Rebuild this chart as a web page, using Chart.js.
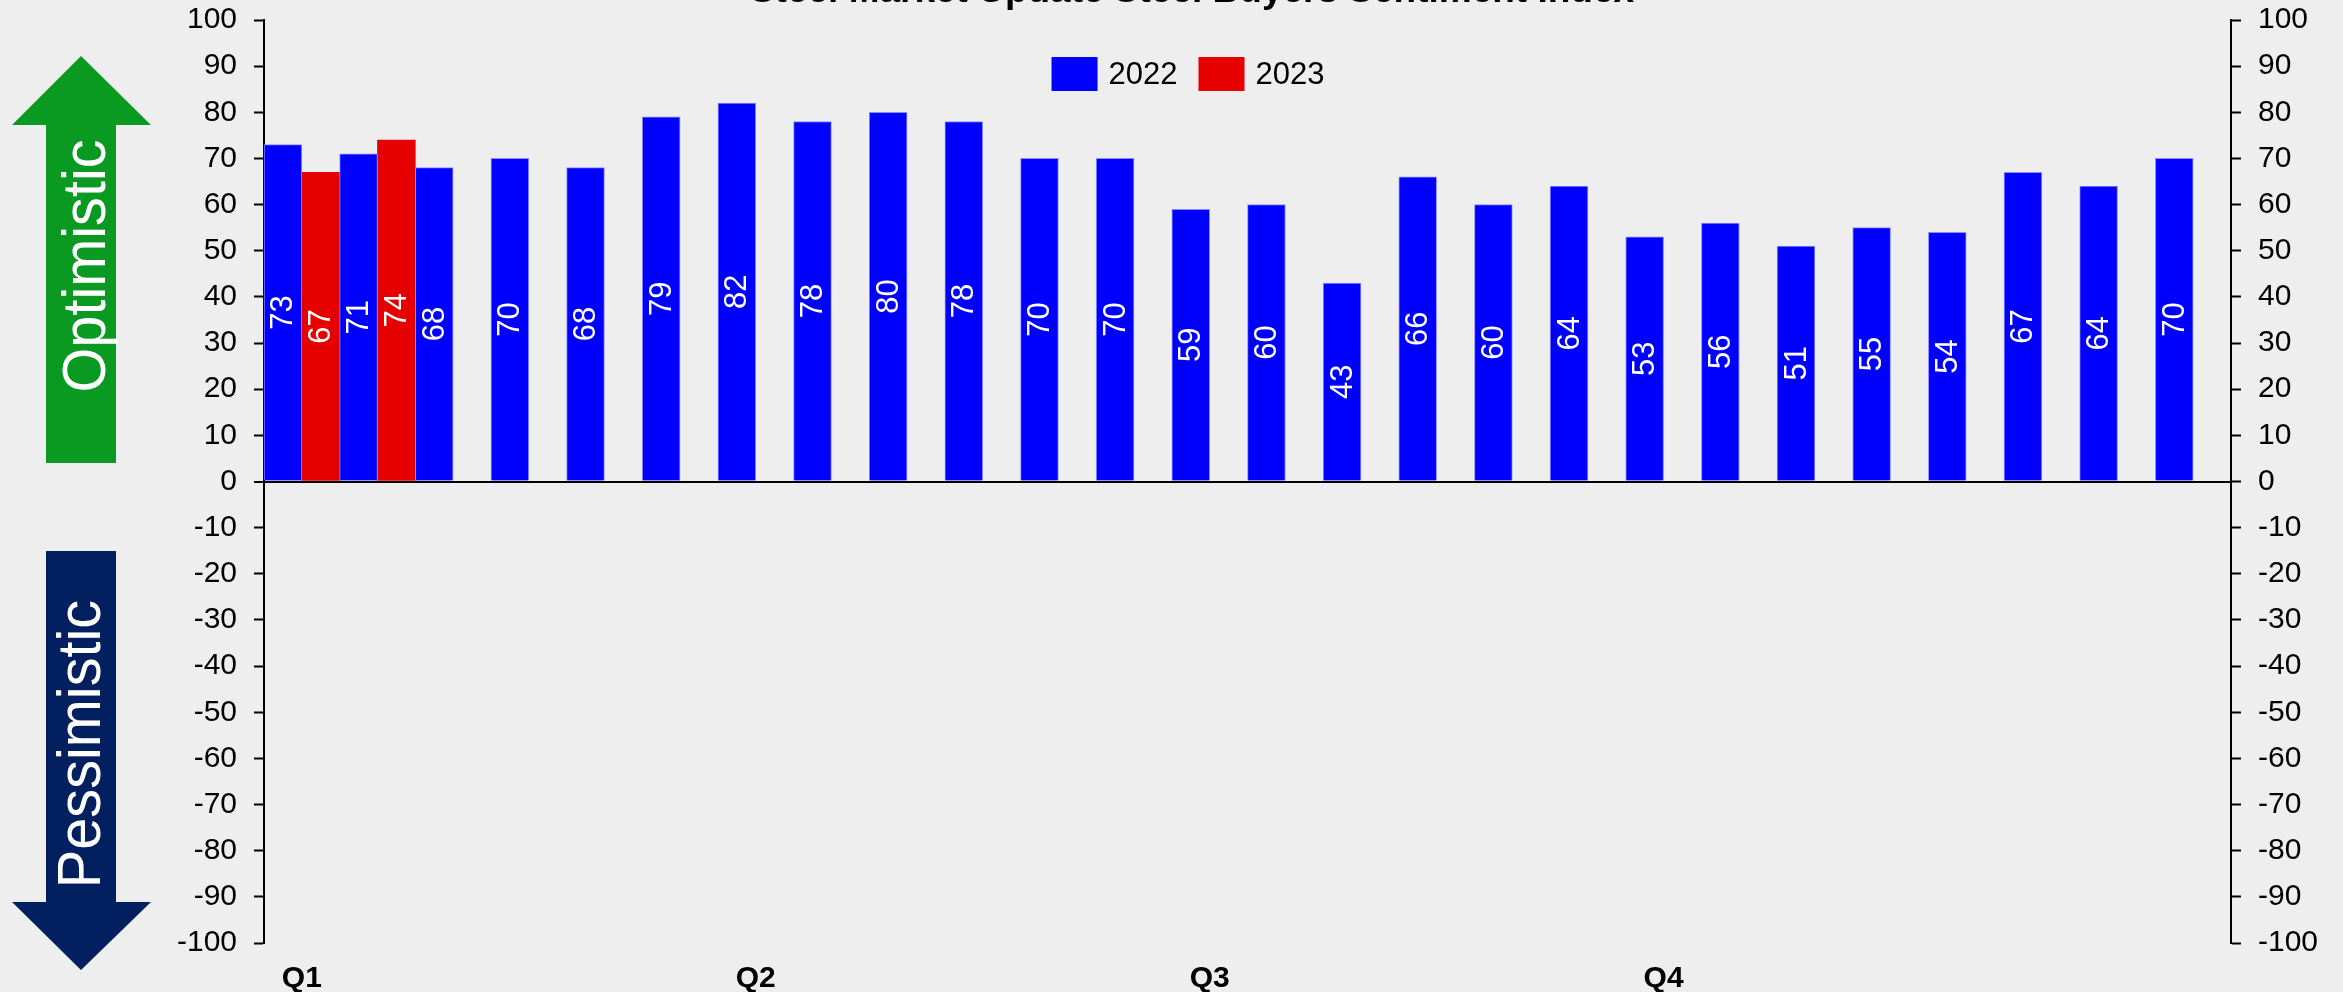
<!DOCTYPE html>
<html>
<head>
<meta charset="utf-8">
<script src="https://cdn.jsdelivr.net/npm/chart.js@4/dist/chart.umd.min.js"></script>
<style>
  html, body { margin: 0; padding: 0; background: #EEEEEE; overflow: hidden; }
  #wrap { position: relative; width: 2343px; height: 992px; }
</style>
</head>
<body>
<div id="wrap"><canvas id="c"></canvas></div>
<script>
// ---- data ----
const chartTitle = 'Steel Market Update Steel Buyers Sentiment Index';
const categories = ['Q1','','','','','','Q2','','','','','','Q3','','','','','','Q4','','','','','','',''];
const seriesNames = ['2022', '2023'];
const values2022 = [73,71,68,70,68,79,82,78,80,78,70,70,59,60,43,66,60,64,53,56,51,55,54,67,64,70];
const values2023 = [67,74,null,null,null,null,null,null,null,null,null,null,null,null,null,null,null,null,null,null,null,null,null,null,null,null];
const yMin = -100, yMax = 100, yStep = 10;
const arrowTexts = ['Optimistic', 'Pessimistic'];

const FONT = '"Liberation Sans", Arial, sans-serif';
const colors = ['#0000FF', '#E60000'];
const edgeColors = ['#8C8CFF', '#E60000'];

const bgPlugin = {
  id: 'bg',
  beforeDraw(chart) {
    const ctx = chart.ctx;
    ctx.save();
    ctx.fillStyle = '#EEEEEE';
    ctx.fillRect(0, 0, chart.width, chart.height);
    // green up arrow
    ctx.fillStyle = '#0A9A22';
    ctx.beginPath();
    ctx.moveTo(81, 56); ctx.lineTo(151, 125); ctx.lineTo(116, 125); ctx.lineTo(116, 463);
    ctx.lineTo(46, 463); ctx.lineTo(46, 125); ctx.lineTo(12, 125); ctx.closePath();
    ctx.fill();
    // navy down arrow
    ctx.fillStyle = '#022060';
    ctx.beginPath();
    ctx.moveTo(46, 551); ctx.lineTo(116, 551); ctx.lineTo(116, 902); ctx.lineTo(151, 902);
    ctx.lineTo(81, 970); ctx.lineTo(12, 902); ctx.lineTo(46, 902); ctx.closePath();
    ctx.fill();
    // texts
    ctx.fillStyle = '#FFFFFF';
    ctx.font = '62px ' + FONT;
    ctx.textAlign = 'center';
    ctx.textBaseline = 'alphabetic';
    ctx.save(); ctx.translate(105, 266); ctx.rotate(-Math.PI / 2); ctx.scale(0.93, 1);
    ctx.fillText(arrowTexts[0], 0, 0); ctx.restore();
    ctx.save(); ctx.translate(100, 744); ctx.rotate(-Math.PI / 2); ctx.scale(0.93, 1);
    ctx.fillText(arrowTexts[1], 0, 0); ctx.restore();
    // title (cut off at top)
    ctx.fillStyle = '#000';
    ctx.font = 'bold 37px ' + FONT;
    ctx.textAlign = 'center';
    ctx.fillText(chartTitle, 1192, 2);
    ctx.restore();
  }
};

const labelPlugin = {
  id: 'vlabels',
  afterDatasetsDraw(chart) {
    const ctx = chart.ctx;
    ctx.save();
    ctx.fillStyle = '#FFFFFF';
    ctx.font = '31px ' + FONT;
    ctx.textAlign = 'center';
    ctx.textBaseline = 'middle';
    chart.data.datasets.forEach((ds, i) => {
      const meta = chart.getDatasetMeta(i);
      meta.data.forEach((bar, j) => {
        const v = ds.data[j];
        if (v === null || v === undefined) return;
        const p = bar.getProps(['x', 'y', 'base'], true);
        ctx.save();
        ctx.translate(p.x, (p.y + p.base) / 2);
        ctx.rotate(-Math.PI / 2);
        ctx.fillText(String(v), 0, 1);
        ctx.restore();
      });
    });
    ctx.restore();
  }
};

const legendPlugin = {
  id: 'mylegend',
  afterDraw(chart) {
    const ctx = chart.ctx;
    ctx.save();
    ctx.font = '31px ' + FONT;
    const boxW = 46, boxH = 34, gapT = 11, gapItem = 21;
    const items = chart.data.datasets.map(d => ({ label: d.label, color: d.backgroundColor, w: ctx.measureText(d.label).width }));
    let total = 0;
    items.forEach((it, k) => { total += boxW + gapT + it.w + (k < items.length - 1 ? gapItem : 0); });
    let x = 1188 - total / 2;
    const yc = 74;
    ctx.textAlign = 'left';
    ctx.textBaseline = 'middle';
    items.forEach(it => {
      ctx.fillStyle = it.color;
      ctx.fillRect(x, yc - boxH / 2, boxW, boxH);
      x += boxW + gapT;
      ctx.fillStyle = '#000';
      ctx.fillText(it.label, x, yc + 1);
      x += it.w + gapItem;
    });
    ctx.restore();
  }
};

const gridColor = c => (c.tick && c.tick.value === 0) ? '#000000' : 'rgba(0,0,0,0)';
const gridWidth = c => (c.tick && c.tick.value === 0) ? 2 : 1;

new Chart(document.getElementById('c'), {
  type: 'bar',
  data: {
    labels: categories,
    datasets: [
      { label: seriesNames[0], data: values2022, backgroundColor: colors[0], borderColor: edgeColors[0], borderWidth: 1, categoryPercentage: 1.0, barPercentage: 1.0, yAxisID: 'y' },
      { label: seriesNames[1], data: values2023, backgroundColor: colors[1], borderColor: edgeColors[1], borderWidth: 0, categoryPercentage: 1.0, barPercentage: 1.0, yAxisID: 'y' }
    ]
  },
  options: {
    responsive: true,
    maintainAspectRatio: false,
    animation: false,
    devicePixelRatio: 1,
    layout: { padding: { top: 20, left: 0, right: 0, bottom: 0 } },
    plugins: { legend: { display: false }, tooltip: { enabled: false }, title: { display: false } },
    scales: {
      x: {
        type: 'category',
        offset: true,
        grid: { display: false, drawTicks: false },
        border: { display: false },
        ticks: { autoSkip: false, maxRotation: 0, minRotation: 0, padding: 18, color: '#000', font: { family: FONT, size: 30, weight: 'bold' } },
        afterFit: s => { s.height = 49; }
      },
      y: {
        position: 'left',
        min: yMin, max: yMax,
        z: 1,
        ticks: { stepSize: yStep, padding: 17, color: '#000', font: { family: FONT, size: 30 } },
        grid: { color: gridColor, lineWidth: gridWidth, tickColor: '#000', tickWidth: 2, tickLength: 10 },
        border: { display: true, color: '#000', width: 2 },
        afterFit: s => { s.width = 264; s.paddingTop = 0; s.paddingBottom = 0; }
      },
      y2: {
        position: 'right',
        min: yMin, max: yMax,
        ticks: { stepSize: yStep, padding: 17, color: '#000', font: { family: FONT, size: 30 } },
        grid: { drawOnChartArea: false, tickColor: '#000', tickWidth: 2, tickLength: 10 },
        border: { display: true, color: '#000', width: 2 },
        afterFit: s => { s.width = 112; s.paddingTop = 0; s.paddingBottom = 0; }
      }
    }
  },
  plugins: [bgPlugin, labelPlugin, legendPlugin]
});
</script>
</body>
</html>
